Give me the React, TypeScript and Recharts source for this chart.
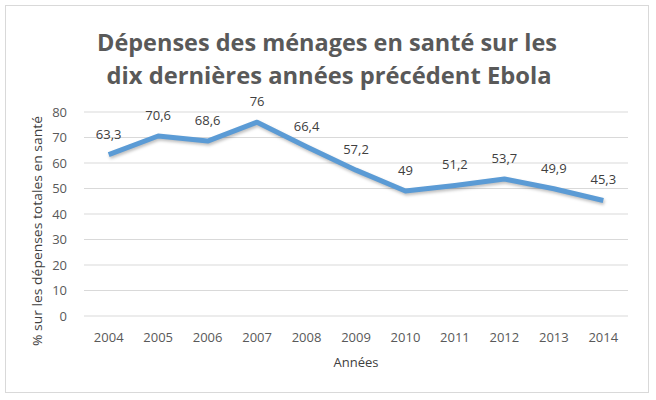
import React from 'react';
import { LineChart, Line, XAxis, YAxis, CartesianGrid, LabelList, Label } from 'recharts';

const years = ['2004', '2005', '2006', '2007', '2008', '2009', '2010', '2011', '2012', '2013', '2014'];
const values = [63.3, 70.6, 68.6, 76, 66.4, 57.2, 49, 51.2, 53.7, 49.9, 45.3];
const yTicks = [0, 10, 20, 30, 40, 50, 60, 70, 80];
const titleLines = ['Dépenses des ménages en santé sur les', 'dix dernières années précédent Ebola'];
const xTitle = 'Années';
const yTitle = '% sur les dépenses totales en santé';

const data = years.map((y, i) => ({ year: y, value: values[i] }));

const FONT = '"Open Sans", "Noto Sans", sans-serif';

export default function App() {
  return (
    <div style={{ position: 'absolute', left: 0, top: 0, width: 656, height: 400, background: '#fff', fontFamily: FONT }}>
      <div style={{ position: 'absolute', left: 5, top: 5, width: 642, height: 386, border: '1px solid #d9d9d9' }} />
      <svg width={656} height={100} style={{ position: 'absolute', left: 0, top: 0 }}>
        <text x={327} y={51} textAnchor="middle" fill="#595959" fontSize={23} fontWeight="bold" fontFamily={FONT} textLength={460} lengthAdjust="spacingAndGlyphs">
          {titleLines[0]}
        </text>
        <text x={329} y={84} textAnchor="middle" fill="#595959" fontSize={23} fontWeight="bold" fontFamily={FONT} textLength={445} lengthAdjust="spacingAndGlyphs">
          {titleLines[1]}
        </text>
      </svg>
      <div style={{ position: 'absolute', left: 0, top: 0 }}>
        <LineChart width={656} height={400} data={data} margin={{ top: 112, right: 28, bottom: 0, left: 0 }}>
          <CartesianGrid vertical={false} stroke="#d9d9d9" strokeWidth={1} />
          <XAxis
            dataKey="year"
            axisLine={false}
            tickLine={false}
            tickSize={0}
            tickMargin={17}
            height={84}
            padding={{ left: 24.7, right: 24.7 }}
            tick={{ fill: '#595959', fontSize: 13, fontFamily: FONT }}
            interval={0}
          >
            <Label
              content={(props: any) => {
                const vb = props.viewBox || {};
                return (
                  <text x={vb.x + vb.width / 2} y={367} textAnchor="middle" fill="#404040" fontSize={13} fontFamily={FONT}>
                    {xTitle}
                  </text>
                );
              }}
            />
          </XAxis>
          <YAxis
            domain={[0, 80]}
            ticks={yTicks}
            axisLine={false}
            tickLine={false}
            tickSize={0}
            tickMargin={17}
            width={84}
            tick={{ fill: '#595959', fontSize: 13, fontFamily: FONT }}
            interval={0}
          >
            <Label
              content={() => (
                <text x={42} y={231} transform="rotate(-90, 42, 231)" textAnchor="middle" fill="#404040" fontSize={13} fontFamily={FONT} textLength={230} lengthAdjust="spacingAndGlyphs">
                  {yTitle}
                </text>
              )}
            />
          </YAxis>
          <Line
            type="linear"
            dataKey="value"
            stroke="#5b9bd5"
            strokeWidth={5}
            dot={false}
            activeDot={false}
            isAnimationActive={false}
            strokeLinejoin="round"
            style={{ filter: 'drop-shadow(1px 2px 1.5px rgba(0,0,0,0.25))' }}
          >
            <LabelList
              dataKey="value"
              position="top"
              offset={16}
              fill="#404040"
              fontSize={13}
              fontFamily={FONT}
              formatter={(v: any) => String(v).replace('.', ',')}
            />
          </Line>
        </LineChart>
      </div>
    </div>
  );
}
